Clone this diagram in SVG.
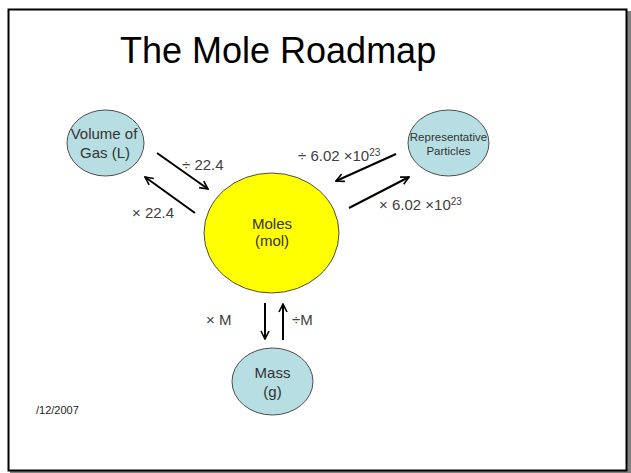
<svg xmlns="http://www.w3.org/2000/svg" width="631" height="473" viewBox="0 0 631 473">
<style>
text{font-family:"Liberation Sans",Arial,sans-serif;}
.lbl{font-size:15px;fill:#404040;}
.node{fill:#b7dfe3;stroke:#4d4d4d;stroke-width:1;}
.nt{font-size:15px;fill:#333;text-anchor:middle;}
.sm{font-size:11.5px;}
.sup{font-size:10px;}
.conn{stroke:#000;stroke-width:2;fill:none;marker-end:url(#ah);}
</style>
<defs>
<marker id="ah" viewBox="0 0 10 10" refX="9" refY="5" markerWidth="5" markerHeight="5" orient="auto" markerUnits="strokeWidth">
<path d="M1,1 L9,5 L1,9" fill="none" stroke="#000" stroke-width="1.6"/>
</marker>
</defs>
<rect x="0" y="0" width="631" height="473" fill="#fff"/>
<rect x="627" y="11" width="4" height="462" fill="#808080"/>
<rect x="10" y="470" width="621" height="3" fill="#808080"/>
<rect x="8.5" y="9.5" width="618" height="461" fill="#fff" stroke="#000" stroke-width="2"/>
<text x="120" y="63" font-size="36" fill="#000">The Mole Roadmap</text>
<g id="connectors">
<line class="conn" x1="157" y1="153" x2="208" y2="189"/>
<line class="conn" x1="195" y1="213" x2="145" y2="177"/>
<line class="conn" x1="396" y1="154" x2="336" y2="181"/>
<line class="conn" x1="349" y1="208" x2="409" y2="177"/>
<line class="conn" x1="265" y1="303" x2="265" y2="339"/>
<line class="conn" x1="283" y1="340" x2="283" y2="304"/>
<text class="lbl" x="182" y="170">÷ 22.4</text>
<text class="lbl" x="132" y="218">× 22.4</text>
<text class="lbl" x="298" y="161">÷ 6.02 ×10<tspan class="sup" dy="-5">23</tspan></text>
<text class="lbl" x="379" y="210">× 6.02 ×10<tspan class="sup" dy="-5">23</tspan></text>
<text class="lbl" x="206" y="325">× M</text>
<text class="lbl" x="292" y="325">÷M</text>
</g>
<g id="gas">
<ellipse class="node" cx="105.5" cy="143" rx="38.5" ry="33"/>
<text class="nt" x="104" y="139">Volume of</text>
<text class="nt" x="105" y="158">Gas (L)</text>
</g>
<g id="particles">
<ellipse class="node" cx="448.5" cy="143" rx="40.5" ry="33"/>
<text class="nt sm" x="448.5" y="141">Representative</text>
<text class="nt sm" x="448.5" y="155">Particles</text>
</g>
<g id="moles">
<ellipse cx="271.5" cy="233" rx="67.5" ry="60" fill="#ffff00" stroke="#4d4d4d" stroke-width="1"/>
<text class="nt" x="272" y="229">Moles</text>
<text class="nt" x="272" y="246">(mol)</text>
</g>
<g id="mass">
<ellipse class="node" cx="272.5" cy="381.5" rx="40.5" ry="33.5"/>
<text class="nt" x="272.5" y="378">Mass</text>
<text class="nt" x="272.5" y="397">(g)</text>
</g>
<text x="36" y="414" font-size="11" fill="#222">/12/2007</text>
</svg>
